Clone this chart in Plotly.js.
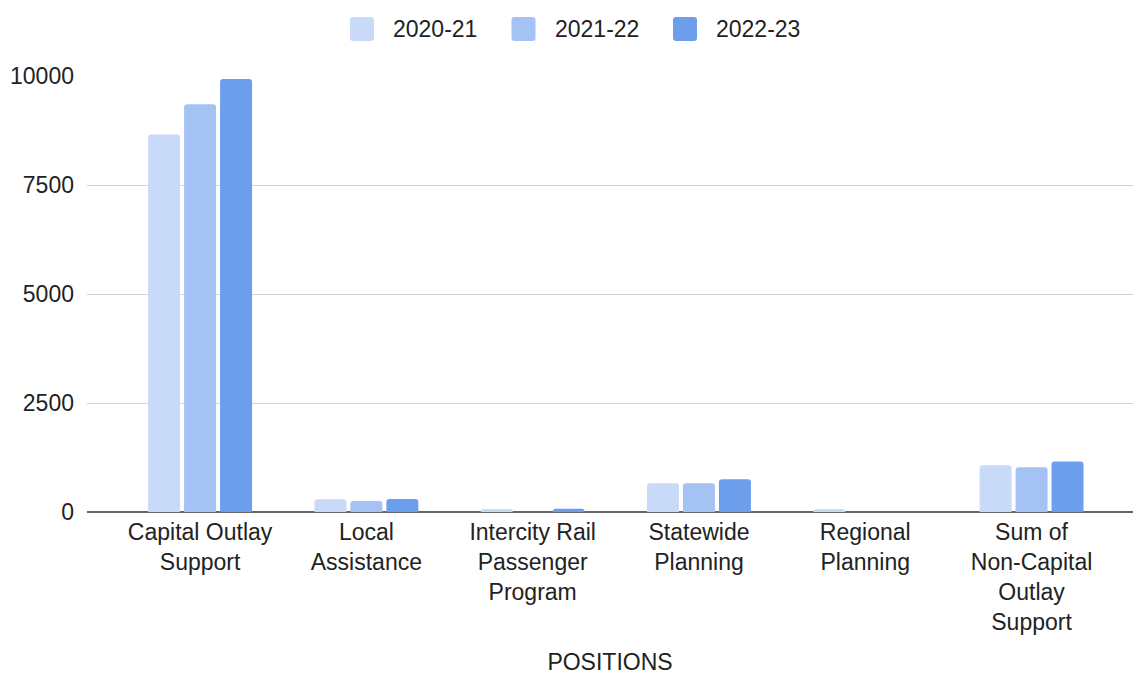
<!DOCTYPE html>
<html>
<head>
<meta charset="utf-8">
<script src="https://cdn.plot.ly/plotly-3.0.1.min.js"></script>
<style>
  html, body { margin: 0; padding: 0; background: #ffffff; }
  #chart { width: 1133px; height: 675px; }
</style>
</head>
<body>
<div id="chart"></div>
<script>
const categories = [
  "Capital Outlay<br>Support",
  "Local<br>Assistance",
  "Intercity Rail<br>Passenger<br>Program",
  "Statewide<br>Planning",
  "Regional<br>Planning",
  "Sum of<br>Non-Capital<br>Outlay<br>Support"
];
const seriesNames = ["2020-21", "2021-22", "2022-23"];
const values2020_21 = [8660, 290, 70, 660, 70, 1070];
const values2021_22 = [9350, 250, 0, 660, 0, 1025];
const values2022_23 = [9930, 300, 75, 750, 0, 1160];
const seriesColors = ["#c9daf8", "#a4c2f4", "#6d9eeb"];
const xTitle = "POSITIONS";

const seriesValues = [values2020_21, values2021_22, values2022_23];
const catIdx = categories.map((c, i) => i);

const traces = seriesValues.map((vals, k) => ({
  type: "bar",
  name: seriesNames[k],
  x: catIdx,
  y: vals,
  marker: { color: seriesColors[k], line: { width: 0 } },
  hoverinfo: "x+y+name"
}));

const font = "'Liberation Sans', Arial, sans-serif";
const fs = 23;
const txtColor = "#222222";

// plot area geometry (px) for the custom legend placement
const W = 1133, H = 675, ML = 87, MR = 0, MT = 76, MB = 163;
const PW = W - ML - MR, PH = H - MT - MB;
const px2x = p => (p - ML) / PW;
const px2y = p => (H - MB - p) / PH;

// rounded square swatch path in paper coords
function roundedRect(x0, y0, x1, y1, r) {
  const ax = r / PW, ay = r / PH;
  const X0 = px2x(x0), X1 = px2x(x1), Y0 = px2y(y0), Y1 = px2y(y1);
  return `M${X0 + ax},${Y0} L${X1 - ax},${Y0} Q${X1},${Y0} ${X1},${Y0 - ay} ` +
         `L${X1},${Y1 + ay} Q${X1},${Y1} ${X1 - ax},${Y1} L${X0 + ax},${Y1} ` +
         `Q${X0},${Y1} ${X0},${Y1 + ay} L${X0},${Y0 - ay} Q${X0},${Y0} ${X0 + ax},${Y0} Z`;
}

const legendStart = 350, legendStep = 161.5, swatch = 24, legendTop = 17, textGap = 17;
const shapes = [];
const annotations = [];
seriesNames.forEach((name, k) => {
  const x0 = legendStart + k * legendStep;
  shapes.push({
    type: "path",
    xref: "paper", yref: "paper",
    path: roundedRect(x0, legendTop, x0 + swatch, legendTop + swatch, 3),
    fillcolor: seriesColors[k],
    line: { width: 0 },
    layer: "above"
  });
  annotations.push({
    xref: "paper", yref: "paper",
    x: px2x(x0 + swatch + textGap), y: px2y(legendTop + swatch / 2),
    xanchor: "left", yanchor: "middle",
    text: name, showarrow: false,
    font: { family: font, size: fs, color: txtColor }
  });
});

const layout = {
  width: W,
  height: H,
  paper_bgcolor: "#ffffff",
  plot_bgcolor: "#ffffff",
  margin: { l: ML, r: MR, t: MT, b: MB, autoexpand: false },
  barmode: "group",
  bargap: 0.351,
  bargroupgap: 0.111,
  barcornerradius: 3,
  font: { family: font, size: fs, color: txtColor },
  showlegend: false,
  shapes: shapes,
  annotations: annotations,
  xaxis: {
    type: "linear",
    range: [-0.68, 5.61],
    tickmode: "array",
    tickvals: catIdx,
    ticktext: categories,
    showgrid: false,
    zeroline: false,
    showline: false,
    ticks: "",
    ticklabelstandoff: 4,
    tickfont: { family: font, size: fs, color: txtColor },
    automargin: false,
    title: { text: xTitle, font: { family: font, size: fs, color: txtColor }, standoff: 26 }
  },
  yaxis: {
    range: [0, 10000],
    tickmode: "linear",
    tick0: 0,
    dtick: 2500,
    tickformat: "d",
    showgrid: true,
    gridcolor: "#d3d3d3",
    gridwidth: 1,
    zeroline: true,
    zerolinecolor: "#666666",
    zerolinewidth: 1.5,
    showline: false,
    ticks: "",
    ticklabelstandoff: 12,
    tickfont: { family: font, size: fs, color: txtColor },
    automargin: false
  }
};

Plotly.newPlot("chart", traces, layout, { displayModeBar: false, responsive: false });
</script>
</body>
</html>
